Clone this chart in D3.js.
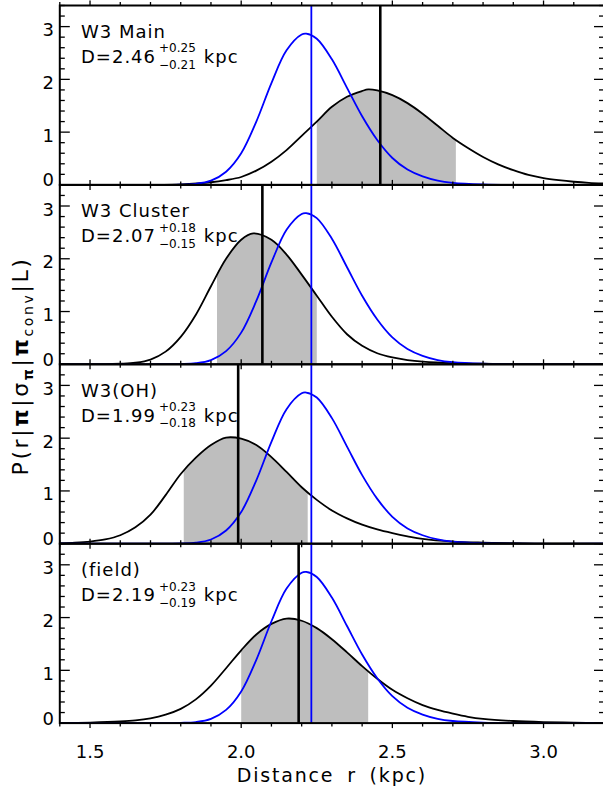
<!DOCTYPE html>
<html><head><meta charset="utf-8">
<script src="https://cdn.jsdelivr.net/npm/d3@7"></script>
<style>body{margin:0;background:#fff} svg{display:block}</style>
</head><body>
<script>
// ---------------- data ----------------
const xDomain = [1.4, 3.2];
const yDomain = [0, 3.4];
const xTickValues = [1.5, 2.0, 2.5, 3.0];
const xTickLabels = ["1.5", "2.0", "2.5", "3.0"];
const yTickValues = [0, 1, 2, 3];
const yTickLabels = ["0", "1", "2", "3"];

const panelNames = ["W3 Main", "W3 Cluster", "W3(OH)", "(field)"];
const bestD   = [2.46, 2.07, 1.99, 2.19];
const errPlus = [0.25, 0.18, 0.23, 0.23];
const errMinus= [0.21, 0.15, 0.18, 0.19];
const refD = 2.232;   // blue vertical line

// blue curve (same in every panel)
const blueR = [1.40,1.70,1.80,1.85,1.90,1.95,2.00,2.05,2.10,2.15,2.20,2.215,2.25,2.30,2.35,2.40,2.45,2.50,2.55,2.60,2.65,2.70,2.80,2.90,3.20];
const blueP = [0.00,0.00,0.005,0.02,0.08,0.25,0.60,1.20,1.93,2.55,2.85,2.865,2.77,2.38,1.84,1.30,0.85,0.51,0.29,0.16,0.08,0.04,0.01,0.00,0.00];

// black curves
const mainR = [1.40,1.70,1.80,1.90,1.95,2.00,2.05,2.10,2.15,2.20,2.25,2.30,2.35,2.40,2.42,2.45,2.50,2.55,2.60,2.65,2.70,2.75,2.80,2.85,2.90,2.95,3.00,3.05,3.10,3.15,3.20];
const mainP = [0.00,0.00,0.01,0.05,0.09,0.15,0.27,0.44,0.66,0.93,1.20,1.48,1.67,1.78,1.81,1.79,1.70,1.55,1.35,1.12,0.89,0.70,0.53,0.39,0.28,0.19,0.13,0.09,0.06,0.04,0.03];

const clusterR = [1.40,1.55,1.60,1.65,1.70,1.75,1.80,1.85,1.90,1.95,2.00,2.04,2.10,2.15,2.20,2.25,2.30,2.35,2.40,2.45,2.50,2.55,2.60,2.70,2.80,2.90,3.20];
const clusterP = [0.00,0.00,0.01,0.03,0.09,0.24,0.52,0.94,1.48,2.00,2.36,2.48,2.36,2.08,1.70,1.30,0.90,0.57,0.35,0.21,0.13,0.08,0.05,0.02,0.01,0.00,0.00];

const ohR = [1.40,1.45,1.50,1.55,1.60,1.65,1.70,1.75,1.80,1.85,1.90,1.95,2.00,2.05,2.10,2.15,2.20,2.25,2.30,2.35,2.40,2.45,2.50,2.55,2.60,2.70,2.80,2.90,3.00,3.20];
const ohP = [0.01,0.02,0.04,0.08,0.16,0.31,0.55,0.92,1.32,1.63,1.87,2.01,1.99,1.87,1.64,1.36,1.07,0.83,0.63,0.48,0.36,0.27,0.20,0.14,0.09,0.04,0.02,0.01,0.00,0.00];

const fieldR = [1.40,1.50,1.60,1.65,1.70,1.75,1.80,1.85,1.90,1.95,2.00,2.05,2.10,2.15,2.20,2.25,2.30,2.35,2.40,2.45,2.50,2.55,2.60,2.65,2.70,2.75,2.80,2.90,3.00,3.10,3.20];
const fieldP = [0.00,0.01,0.03,0.05,0.09,0.16,0.27,0.45,0.71,1.04,1.38,1.68,1.88,1.98,1.94,1.80,1.59,1.34,1.08,0.84,0.63,0.47,0.34,0.25,0.18,0.12,0.08,0.04,0.02,0.01,0.00];

const blackR = [mainR, clusterR, ohR, fieldR];
const blackP = [mainP, clusterP, ohP, fieldP];

// ---------------- drawing ----------------
const W = 603, H = 792;
const FONT = "'DejaVu Sans', sans-serif";
const svg = d3.select("body").append("svg").attr("width", W).attr("height", H);

const x = d3.scaleLinear().domain(xDomain).range([59.8, 604]);
const panelTop = 5.5, panelH = 179.4;
const x0 = x.range()[0], x1 = x.range()[1];

const xMinor = x.ticks(18);
const blue = "#0000ff";
const curve = d3.curveCatmullRom.alpha(0.5);

panelNames.forEach((name, i) => {
  const top = panelTop + i * panelH, bot = top + panelH;
  const y = d3.scaleLinear().domain(yDomain).range([bot, top]);
  const g = svg.append("g");

  const clipId = "clip" + i;
  svg.append("clipPath").attr("id", clipId).append("rect")
    .attr("x", x(bestD[i] - errMinus[i])).attr("y", top)
    .attr("width", x(bestD[i] + errPlus[i]) - x(bestD[i] - errMinus[i])).attr("height", panelH);
  const pclip = "pclip" + i;
  svg.append("clipPath").attr("id", pclip).append("rect")
    .attr("x", x0).attr("y", top).attr("width", x1 - x0).attr("height", panelH);

  const pts = blackR[i].map((r, k) => [r, blackP[i][k]]);
  const bpts = blueR.map((r, k) => [r, blueP[k]]);

  // gray interval
  g.append("path").datum(pts)
    .attr("clip-path", `url(#${clipId})`)
    .attr("fill", "#bebebe")
    .attr("d", d3.area().x(d => x(d[0])).y0(y(0)).y1(d => y(d[1])).curve(curve));

  const cg = g.append("g").attr("clip-path", `url(#${pclip})`);
  cg.append("path").datum(pts).attr("fill", "none").attr("stroke", "#000").attr("stroke-width", 1.8)
    .attr("d", d3.line().x(d => x(d[0])).y(d => y(d[1])).curve(curve));
  cg.append("path").datum(bpts).attr("fill", "none").attr("stroke", blue).attr("stroke-width", 1.8)
    .attr("d", d3.line().x(d => x(d[0])).y(d => y(d[1])).curve(curve));

  // vertical lines
  g.append("line").attr("x1", x(bestD[i])).attr("x2", x(bestD[i])).attr("y1", top).attr("y2", bot)
    .attr("stroke", "#000").attr("stroke-width", 2.6);
  g.append("line").attr("x1", x(refD)).attr("x2", x(refD)).attr("y1", top).attr("y2", bot)
    .attr("stroke", blue).attr("stroke-width", 1.8);

  // frame
  g.append("rect").attr("x", x0).attr("y", top).attr("width", x1 - x0).attr("height", panelH)
    .attr("fill", "none").attr("stroke", "#000").attr("stroke-width", 2);

  // y ticks (inward both sides)
  y.ticks(17).forEach(v => {
    const major = Math.abs(v - Math.round(v)) < 1e-6;
    const len = major ? 10 : 5;
    g.append("line").attr("x1", x0).attr("x2", x0 + len).attr("y1", y(v)).attr("y2", y(v))
      .attr("stroke", "#000").attr("stroke-width", 1.3);
    g.append("line").attr("x1", x1).attr("x2", x1 - len).attr("y1", y(v)).attr("y2", y(v))
      .attr("stroke", "#000").attr("stroke-width", 1.3);
  });
  // x ticks (outward top and bottom)
  xMinor.forEach(v => {
    const major = Math.abs(v * 2 - Math.round(v * 2)) < 1e-6;
    const len = major ? 5 : 3.5;
    g.append("line").attr("x1", x(v)).attr("x2", x(v)).attr("y1", top).attr("y2", top - len)
      .attr("stroke", "#000").attr("stroke-width", 1.3);
    g.append("line").attr("x1", x(v)).attr("x2", x(v)).attr("y1", bot).attr("y2", bot + len)
      .attr("stroke", "#000").attr("stroke-width", 1.3);
  });

  // y tick labels
  yTickValues.forEach((v, k) => {
    g.append("text").attr("x", 54).attr("y", v === 0 ? y(v) + 1.5 : y(v) + 9.5)
      .attr("text-anchor", "end").attr("font-family", FONT).attr("font-size", 18)
      .text(yTickLabels[k]);
  });

  // panel labels
  g.append("text").attr("x", 81).attr("y", top + 32.3)
    .attr("font-family", FONT).attr("font-size", 18).attr("letter-spacing", 1)
    .text(name);
  const dt = g.append("text").attr("x", 81).attr("y", top + 57.2)
    .attr("font-family", FONT).attr("font-size", 18).attr("letter-spacing", 1)
    .text("D=" + d3.format(".2f")(bestD[i]));
  const dl = dt.node().getComputedTextLength();
  const sx = 81 + dl + 3;
  const sup = g.append("text").attr("x", sx).attr("y", top + 46.8)
    .attr("font-family", FONT).attr("font-size", 12)
    .text("+" + d3.format(".2f")(errPlus[i]));
  g.append("text").attr("x", sx).attr("y", top + 63)
    .attr("font-family", FONT).attr("font-size", 12)
    .text("\u2212" + d3.format(".2f")(errMinus[i]));
  const sl = sup.node().getComputedTextLength();
  g.append("text").attr("x", sx + sl + 8).attr("y", top + 57.2)
    .attr("font-family", FONT).attr("font-size", 18).attr("letter-spacing", 1)
    .text("kpc");
});

// x tick labels
xTickValues.forEach((v, k) => {
  svg.append("text").attr("x", x(v)).attr("y", 758).attr("text-anchor", "middle")
    .attr("font-family", FONT).attr("font-size", 18).text(xTickLabels[k]);
});

// axis titles
svg.append("text").attr("x", (x0 + x1) / 2).attr("y", 782).attr("text-anchor", "middle")
  .attr("font-family", FONT).attr("font-size", 19).attr("letter-spacing", 1.8).attr("word-spacing", 5)
  .text("Distance r (kpc)");

const yl = svg.append("text").attr("transform", "translate(28,366) rotate(-90)")
  .attr("text-anchor", "middle").attr("font-family", FONT).attr("font-size", 22).attr("letter-spacing", 2.6);
yl.append("tspan").text("P(r|");
yl.append("tspan").attr("font-weight", "bold").text("\u03c0");
yl.append("tspan").text("|\u03c3");
yl.append("tspan").attr("font-weight", "bold").attr("font-size", 14).attr("dy", 5).text("\u03c0");
yl.append("tspan").attr("dy", -5).text("|");
yl.append("tspan").attr("font-weight", "bold").text("\u03c0");
yl.append("tspan").attr("font-size", 14).attr("dy", 5).text("conv");
yl.append("tspan").attr("dy", -5).text("|L)");
</script>
</body></html>
